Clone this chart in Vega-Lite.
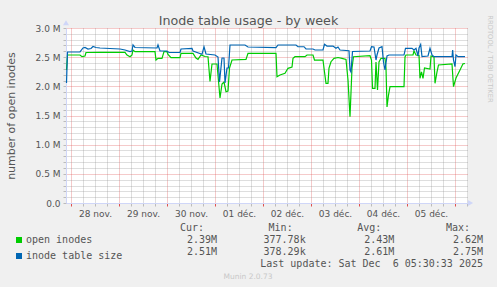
{
  "$schema": "https://vega.github.io/schema/vega-lite/v6.json",
  "width": 402,
  "height": 175,
  "autosize": {"type": "none"},
  "padding": {"left": 66, "top": 28, "right": 29, "bottom": 84},
  "background": "#F0F0F0",
  "config": {
    "view": {"fill": "white", "stroke": null},
    "font": "DejaVu Sans",
    "axis": {"labelFont": "DejaVu Sans", "labelFontSize": 9, "labelColor": "#555555", "titleFont": "DejaVu Sans", "titleFontWeight": "normal", "titleColor": "#555555", "domainColor": "#CFD6F8"}
  },
  "datasets": {
    "lines": [
      {"t": "2025-11-27T21:45:00Z", "series": "open inodes", "v": 2280000},
      {"t": "2025-11-27T22:15:00Z", "series": "open inodes", "v": 2537000},
      {"t": "2025-11-28T04:30:00Z", "series": "open inodes", "v": 2537000},
      {"t": "2025-11-28T05:30:00Z", "series": "open inodes", "v": 2508000},
      {"t": "2025-11-28T07:00:00Z", "series": "open inodes", "v": 2520000},
      {"t": "2025-11-28T07:30:00Z", "series": "open inodes", "v": 2580000},
      {"t": "2025-11-28T14:30:00Z", "series": "open inodes", "v": 2583000},
      {"t": "2025-11-29T03:00:00Z", "series": "open inodes", "v": 2583000},
      {"t": "2025-11-29T04:00:00Z", "series": "open inodes", "v": 2537000},
      {"t": "2025-11-29T05:30:00Z", "series": "open inodes", "v": 2508000},
      {"t": "2025-11-29T06:30:00Z", "series": "open inodes", "v": 2537000},
      {"t": "2025-11-29T07:00:00Z", "series": "open inodes", "v": 2623000},
      {"t": "2025-11-29T08:00:00Z", "series": "open inodes", "v": 2594000},
      {"t": "2025-11-29T18:00:00Z", "series": "open inodes", "v": 2594000},
      {"t": "2025-11-29T18:30:00Z", "series": "open inodes", "v": 2451000},
      {"t": "2025-11-29T19:30:00Z", "series": "open inodes", "v": 2480000},
      {"t": "2025-11-29T21:30:00Z", "series": "open inodes", "v": 2480000},
      {"t": "2025-11-29T22:30:00Z", "series": "open inodes", "v": 2594000},
      {"t": "2025-11-30T00:00:00Z", "series": "open inodes", "v": 2594000},
      {"t": "2025-11-30T00:30:00Z", "series": "open inodes", "v": 2546000},
      {"t": "2025-11-30T02:00:00Z", "series": "open inodes", "v": 2491000},
      {"t": "2025-11-30T06:30:00Z", "series": "open inodes", "v": 2491000},
      {"t": "2025-11-30T07:00:00Z", "series": "open inodes", "v": 2566000},
      {"t": "2025-11-30T13:00:00Z", "series": "open inodes", "v": 2566000},
      {"t": "2025-11-30T14:30:00Z", "series": "open inodes", "v": 2486000},
      {"t": "2025-11-30T15:30:00Z", "series": "open inodes", "v": 2463000},
      {"t": "2025-11-30T17:00:00Z", "series": "open inodes", "v": 2537000},
      {"t": "2025-11-30T19:00:00Z", "series": "open inodes", "v": 2511000},
      {"t": "2025-11-30T20:30:00Z", "series": "open inodes", "v": 2508000},
      {"t": "2025-11-30T21:30:00Z", "series": "open inodes", "v": 2083000},
      {"t": "2025-11-30T22:30:00Z", "series": "open inodes", "v": 2383000},
      {"t": "2025-12-01T01:00:00Z", "series": "open inodes", "v": 2383000},
      {"t": "2025-12-01T02:30:00Z", "series": "open inodes", "v": 1800000},
      {"t": "2025-12-01T03:30:00Z", "series": "open inodes", "v": 2040000},
      {"t": "2025-12-01T04:30:00Z", "series": "open inodes", "v": 2074000},
      {"t": "2025-12-01T05:30:00Z", "series": "open inodes", "v": 1908000},
      {"t": "2025-12-01T06:30:00Z", "series": "open inodes", "v": 1920000},
      {"t": "2025-12-01T07:15:00Z", "series": "open inodes", "v": 2314000},
      {"t": "2025-12-01T08:30:00Z", "series": "open inodes", "v": 2451000},
      {"t": "2025-12-01T15:30:00Z", "series": "open inodes", "v": 2463000},
      {"t": "2025-12-01T16:30:00Z", "series": "open inodes", "v": 2566000},
      {"t": "2025-12-02T06:30:00Z", "series": "open inodes", "v": 2566000},
      {"t": "2025-12-02T07:00:00Z", "series": "open inodes", "v": 2165000},
      {"t": "2025-12-02T08:30:00Z", "series": "open inodes", "v": 2194000},
      {"t": "2025-12-02T11:00:00Z", "series": "open inodes", "v": 2223000},
      {"t": "2025-12-02T12:30:00Z", "series": "open inodes", "v": 2309000},
      {"t": "2025-12-02T14:30:00Z", "series": "open inodes", "v": 2331000},
      {"t": "2025-12-02T15:00:00Z", "series": "open inodes", "v": 2480000},
      {"t": "2025-12-02T16:00:00Z", "series": "open inodes", "v": 2508000},
      {"t": "2025-12-02T21:00:00Z", "series": "open inodes", "v": 2508000},
      {"t": "2025-12-02T22:00:00Z", "series": "open inodes", "v": 2537000},
      {"t": "2025-12-03T01:00:00Z", "series": "open inodes", "v": 2537000},
      {"t": "2025-12-03T01:45:00Z", "series": "open inodes", "v": 2451000},
      {"t": "2025-12-03T06:00:00Z", "series": "open inodes", "v": 2451000},
      {"t": "2025-12-03T06:45:00Z", "series": "open inodes", "v": 2246000},
      {"t": "2025-12-03T07:30:00Z", "series": "open inodes", "v": 2052000},
      {"t": "2025-12-03T08:30:00Z", "series": "open inodes", "v": 2052000},
      {"t": "2025-12-03T09:00:00Z", "series": "open inodes", "v": 2314000},
      {"t": "2025-12-03T10:00:00Z", "series": "open inodes", "v": 2422000},
      {"t": "2025-12-03T11:30:00Z", "series": "open inodes", "v": 2480000},
      {"t": "2025-12-03T13:30:00Z", "series": "open inodes", "v": 2494000},
      {"t": "2025-12-03T15:30:00Z", "series": "open inodes", "v": 2480000},
      {"t": "2025-12-03T17:30:00Z", "series": "open inodes", "v": 2460000},
      {"t": "2025-12-03T18:30:00Z", "series": "open inodes", "v": 2109000},
      {"t": "2025-12-03T19:30:00Z", "series": "open inodes", "v": 1479000},
      {"t": "2025-12-03T20:30:00Z", "series": "open inodes", "v": 2314000},
      {"t": "2025-12-03T21:15:00Z", "series": "open inodes", "v": 2508000},
      {"t": "2025-12-04T05:30:00Z", "series": "open inodes", "v": 2525000},
      {"t": "2025-12-04T06:15:00Z", "series": "open inodes", "v": 2451000},
      {"t": "2025-12-04T06:45:00Z", "series": "open inodes", "v": 1966000},
      {"t": "2025-12-04T08:00:00Z", "series": "open inodes", "v": 1966000},
      {"t": "2025-12-04T08:30:00Z", "series": "open inodes", "v": 2417000},
      {"t": "2025-12-04T09:15:00Z", "series": "open inodes", "v": 1937000},
      {"t": "2025-12-04T10:00:00Z", "series": "open inodes", "v": 2417000},
      {"t": "2025-12-04T11:00:00Z", "series": "open inodes", "v": 2480000},
      {"t": "2025-12-04T13:00:00Z", "series": "open inodes", "v": 2480000},
      {"t": "2025-12-04T13:30:00Z", "series": "open inodes", "v": 2314000},
      {"t": "2025-12-04T14:00:00Z", "series": "open inodes", "v": 1646000},
      {"t": "2025-12-04T14:45:00Z", "series": "open inodes", "v": 1851000},
      {"t": "2025-12-04T15:30:00Z", "series": "open inodes", "v": 1994000},
      {"t": "2025-12-04T22:30:00Z", "series": "open inodes", "v": 1994000},
      {"t": "2025-12-04T23:00:00Z", "series": "open inodes", "v": 2503000},
      {"t": "2025-12-04T23:30:00Z", "series": "open inodes", "v": 2537000},
      {"t": "2025-12-05T03:00:00Z", "series": "open inodes", "v": 2537000},
      {"t": "2025-12-05T03:30:00Z", "series": "open inodes", "v": 2606000},
      {"t": "2025-12-05T04:30:00Z", "series": "open inodes", "v": 2537000},
      {"t": "2025-12-05T06:00:00Z", "series": "open inodes", "v": 2529000},
      {"t": "2025-12-05T06:30:00Z", "series": "open inodes", "v": 2137000},
      {"t": "2025-12-05T07:15:00Z", "series": "open inodes", "v": 2246000},
      {"t": "2025-12-05T08:00:00Z", "series": "open inodes", "v": 2137000},
      {"t": "2025-12-05T08:45:00Z", "series": "open inodes", "v": 2314000},
      {"t": "2025-12-05T11:30:00Z", "series": "open inodes", "v": 2297000},
      {"t": "2025-12-05T12:00:00Z", "series": "open inodes", "v": 2520000},
      {"t": "2025-12-05T13:30:00Z", "series": "open inodes", "v": 2503000},
      {"t": "2025-12-05T14:00:00Z", "series": "open inodes", "v": 2052000},
      {"t": "2025-12-05T15:00:00Z", "series": "open inodes", "v": 2246000},
      {"t": "2025-12-05T15:45:00Z", "series": "open inodes", "v": 2366000},
      {"t": "2025-12-05T22:30:00Z", "series": "open inodes", "v": 2383000},
      {"t": "2025-12-05T23:15:00Z", "series": "open inodes", "v": 1994000},
      {"t": "2025-12-06T00:30:00Z", "series": "open inodes", "v": 2143000},
      {"t": "2025-12-06T02:30:00Z", "series": "open inodes", "v": 2280000},
      {"t": "2025-12-06T04:00:00Z", "series": "open inodes", "v": 2386000},
      {"t": "2025-12-06T05:00:00Z", "series": "open inodes", "v": 2391000},
      {"t": "2025-11-27T21:45:00Z", "series": "inode table size", "v": 2057000},
      {"t": "2025-11-27T22:15:00Z", "series": "inode table size", "v": 2589000},
      {"t": "2025-11-28T04:30:00Z", "series": "inode table size", "v": 2589000},
      {"t": "2025-11-28T06:00:00Z", "series": "inode table size", "v": 2657000},
      {"t": "2025-11-28T07:00:00Z", "series": "inode table size", "v": 2666000},
      {"t": "2025-11-28T08:30:00Z", "series": "inode table size", "v": 2640000},
      {"t": "2025-11-28T10:00:00Z", "series": "inode table size", "v": 2649000},
      {"t": "2025-11-28T11:00:00Z", "series": "inode table size", "v": 2683000},
      {"t": "2025-11-28T12:30:00Z", "series": "inode table size", "v": 2666000},
      {"t": "2025-11-28T14:30:00Z", "series": "inode table size", "v": 2657000},
      {"t": "2025-11-28T19:30:00Z", "series": "inode table size", "v": 2649000},
      {"t": "2025-11-29T00:30:00Z", "series": "inode table size", "v": 2640000},
      {"t": "2025-11-29T03:00:00Z", "series": "inode table size", "v": 2623000},
      {"t": "2025-11-29T05:30:00Z", "series": "inode table size", "v": 2597000},
      {"t": "2025-11-29T06:30:00Z", "series": "inode table size", "v": 2606000},
      {"t": "2025-11-29T07:00:00Z", "series": "inode table size", "v": 2709000},
      {"t": "2025-11-29T08:00:00Z", "series": "inode table size", "v": 2666000},
      {"t": "2025-11-29T19:00:00Z", "series": "inode table size", "v": 2657000},
      {"t": "2025-11-29T19:30:00Z", "series": "inode table size", "v": 2709000},
      {"t": "2025-11-29T20:30:00Z", "series": "inode table size", "v": 2606000},
      {"t": "2025-11-30T00:00:00Z", "series": "inode table size", "v": 2606000},
      {"t": "2025-11-30T01:00:00Z", "series": "inode table size", "v": 2580000},
      {"t": "2025-11-30T06:30:00Z", "series": "inode table size", "v": 2580000},
      {"t": "2025-11-30T07:00:00Z", "series": "inode table size", "v": 2640000},
      {"t": "2025-11-30T12:30:00Z", "series": "inode table size", "v": 2652000},
      {"t": "2025-11-30T13:00:00Z", "series": "inode table size", "v": 2606000},
      {"t": "2025-11-30T17:30:00Z", "series": "inode table size", "v": 2549000},
      {"t": "2025-11-30T18:30:00Z", "series": "inode table size", "v": 2679000},
      {"t": "2025-11-30T19:30:00Z", "series": "inode table size", "v": 2554000},
      {"t": "2025-12-01T00:00:00Z", "series": "inode table size", "v": 2537000},
      {"t": "2025-12-01T01:30:00Z", "series": "inode table size", "v": 2503000},
      {"t": "2025-12-01T02:15:00Z", "series": "inode table size", "v": 2074000},
      {"t": "2025-12-01T03:30:00Z", "series": "inode table size", "v": 2486000},
      {"t": "2025-12-01T04:30:00Z", "series": "inode table size", "v": 2486000},
      {"t": "2025-12-01T05:00:00Z", "series": "inode table size", "v": 2057000},
      {"t": "2025-12-01T06:00:00Z", "series": "inode table size", "v": 2314000},
      {"t": "2025-12-01T06:45:00Z", "series": "inode table size", "v": 2314000},
      {"t": "2025-12-01T07:30:00Z", "series": "inode table size", "v": 2709000},
      {"t": "2025-12-01T15:00:00Z", "series": "inode table size", "v": 2709000},
      {"t": "2025-12-01T16:30:00Z", "series": "inode table size", "v": 2674000},
      {"t": "2025-12-02T06:30:00Z", "series": "inode table size", "v": 2662000},
      {"t": "2025-12-02T07:30:00Z", "series": "inode table size", "v": 2709000},
      {"t": "2025-12-02T16:30:00Z", "series": "inode table size", "v": 2709000},
      {"t": "2025-12-02T17:30:00Z", "series": "inode table size", "v": 2679000},
      {"t": "2025-12-02T20:30:00Z", "series": "inode table size", "v": 2679000},
      {"t": "2025-12-02T21:30:00Z", "series": "inode table size", "v": 2640000},
      {"t": "2025-12-03T01:00:00Z", "series": "inode table size", "v": 2640000},
      {"t": "2025-12-03T02:00:00Z", "series": "inode table size", "v": 2623000},
      {"t": "2025-12-03T06:00:00Z", "series": "inode table size", "v": 2623000},
      {"t": "2025-12-03T06:45:00Z", "series": "inode table size", "v": 2720000},
      {"t": "2025-12-03T08:00:00Z", "series": "inode table size", "v": 2691000},
      {"t": "2025-12-03T11:00:00Z", "series": "inode table size", "v": 2691000},
      {"t": "2025-12-03T12:30:00Z", "series": "inode table size", "v": 2652000},
      {"t": "2025-12-03T13:30:00Z", "series": "inode table size", "v": 2674000},
      {"t": "2025-12-03T14:30:00Z", "series": "inode table size", "v": 2623000},
      {"t": "2025-12-03T19:00:00Z", "series": "inode table size", "v": 2611000},
      {"t": "2025-12-03T19:30:00Z", "series": "inode table size", "v": 2280000},
      {"t": "2025-12-03T20:00:00Z", "series": "inode table size", "v": 2246000},
      {"t": "2025-12-03T20:45:00Z", "series": "inode table size", "v": 2597000},
      {"t": "2025-12-04T05:30:00Z", "series": "inode table size", "v": 2606000},
      {"t": "2025-12-04T06:15:00Z", "series": "inode table size", "v": 2679000},
      {"t": "2025-12-04T07:30:00Z", "series": "inode table size", "v": 2674000},
      {"t": "2025-12-04T08:30:00Z", "series": "inode table size", "v": 2451000},
      {"t": "2025-12-04T09:00:00Z", "series": "inode table size", "v": 2537000},
      {"t": "2025-12-04T10:00:00Z", "series": "inode table size", "v": 2657000},
      {"t": "2025-12-04T11:30:00Z", "series": "inode table size", "v": 2679000},
      {"t": "2025-12-04T12:15:00Z", "series": "inode table size", "v": 2417000},
      {"t": "2025-12-04T13:00:00Z", "series": "inode table size", "v": 2280000},
      {"t": "2025-12-04T14:00:00Z", "series": "inode table size", "v": 2520000},
      {"t": "2025-12-04T15:00:00Z", "series": "inode table size", "v": 2537000},
      {"t": "2025-12-04T22:30:00Z", "series": "inode table size", "v": 2537000},
      {"t": "2025-12-04T23:15:00Z", "series": "inode table size", "v": 2652000},
      {"t": "2025-12-05T02:30:00Z", "series": "inode table size", "v": 2652000},
      {"t": "2025-12-05T03:30:00Z", "series": "inode table size", "v": 2623000},
      {"t": "2025-12-05T04:30:00Z", "series": "inode table size", "v": 2652000},
      {"t": "2025-12-05T05:30:00Z", "series": "inode table size", "v": 2520000},
      {"t": "2025-12-05T06:00:00Z", "series": "inode table size", "v": 2657000},
      {"t": "2025-12-05T06:50:00Z", "series": "inode table size", "v": 2717000},
      {"t": "2025-12-05T07:30:00Z", "series": "inode table size", "v": 2511000},
      {"t": "2025-12-05T10:30:00Z", "series": "inode table size", "v": 2520000},
      {"t": "2025-12-05T11:30:00Z", "series": "inode table size", "v": 2652000},
      {"t": "2025-12-05T12:30:00Z", "series": "inode table size", "v": 2537000},
      {"t": "2025-12-05T13:30:00Z", "series": "inode table size", "v": 2508000},
      {"t": "2025-12-05T22:30:00Z", "series": "inode table size", "v": 2508000},
      {"t": "2025-12-05T22:50:00Z", "series": "inode table size", "v": 2623000},
      {"t": "2025-12-05T23:15:00Z", "series": "inode table size", "v": 2451000},
      {"t": "2025-12-06T00:00:00Z", "series": "inode table size", "v": 2337000},
      {"t": "2025-12-06T00:30:00Z", "series": "inode table size", "v": 2537000},
      {"t": "2025-12-06T01:30:00Z", "series": "inode table size", "v": 2508000},
      {"t": "2025-12-06T05:00:00Z", "series": "inode table size", "v": 2508000}
    ],
    "arrowY": [{"t": "2025-11-27T21:30:00Z", "v": 3090000}],
    "arrowX": [{"t": "2025-12-06T07:45:00Z", "v": 0}],
    "tbl": [
      {"row": "hdr", "col": "Cur", "txt": "Cur:"},
      {"row": "hdr", "col": "Min", "txt": "Min:"},
      {"row": "hdr", "col": "Avg", "txt": "Avg:"},
      {"row": "hdr", "col": "Max", "txt": "Max:"},
      {"row": "open inodes", "col": "Cur", "txt": "2.39M"},
      {"row": "open inodes", "col": "Min", "txt": "377.78k"},
      {"row": "open inodes", "col": "Avg", "txt": "2.43M"},
      {"row": "open inodes", "col": "Max", "txt": "2.62M"},
      {"row": "inode table size", "col": "Cur", "txt": "2.51M"},
      {"row": "inode table size", "col": "Min", "txt": "378.29k"},
      {"row": "inode table size", "col": "Avg", "txt": "2.61M"},
      {"row": "inode table size", "col": "Max", "txt": "2.75M"},
      {"row": "upd", "col": "Max", "txt": "Last update: Sat Dec \u00a06 05:30:33 2025"},
      {"row": "munin", "col": "Cur", "txt": "Munin 2.0.73"}
    ]
  },
  "layer": [
    {
      "encoding": {
        "x": {
          "field": "t", "type": "temporal",
          "scale": {"type": "utc", "domain": [1764279000000, 1765002600000]},
          "axis": {
            "title": null,
            "values": [1764288000000, 1764309600000, 1764331200000, 1764352800000, 1764374400000, 1764396000000, 1764417600000, 1764439200000, 1764460800000, 1764482400000, 1764504000000, 1764525600000, 1764547200000, 1764568800000, 1764590400000, 1764612000000, 1764633600000, 1764655200000, 1764676800000, 1764698400000, 1764720000000, 1764741600000, 1764763200000, 1764784800000, 1764806400000, 1764828000000, 1764849600000, 1764871200000, 1764892800000, 1764914400000, 1764936000000, 1764957600000, 1764979200000, 1765000800000],
            "grid": true,
            "gridColor": {"condition": {"test": "utchours(datum.value) == 0", "value": "#DE4F4F"}, "value": "#8F8F8F"},
            "gridOpacity": 0.6,
            "gridDash": [1, 1],
            "tickColor": {"condition": {"test": "utchours(datum.value) == 0", "value": "#DE4F4F"}, "value": "#BBBBBB"},
            "tickSize": 3,
            "labelExpr": "utchours(datum.value) == 12 ? utcFormat(datum.value, '%d') + (utcmonth(datum.value) == 10 ? ' nov.' : ' déc.') : ''",
            "labelOverlap": false,
            "labelFlush": false,
            "labelBound": false,
            "labelAngle": 0,
            "labelPadding": 3,
            "domainColor": "#CFD6F8"
          }
        },
        "y": {
          "field": "v", "type": "quantitative",
          "scale": {"domain": [0, 3000000], "nice": false},
          "axis": {
            "title": "number of open inodes",
            "titleFontSize": 11,
            "titleX": -55,
            "titleY": 87.5,
            "titleAngle": -90,
            "titleAlign": "center",
            "titleBaseline": "middle",
            "tickCount": 30,
            "grid": true,
            "gridColor": {"condition": {"test": "datum.value % 500000 == 0", "value": "#DE4F4F"}, "value": "#8F8F8F"},
            "gridOpacity": 0.6,
            "gridDash": [1, 1],
            "tickColor": "#BBBBBB",
            "tickSize": 3,
            "labelExpr": "datum.value % 500000 == 0 ? (datum.value == 0 ? '0.0' : format(datum.value / 1000000, '.1f') + ' M') : ''",
            "labelOverlap": false,
            "labelFlush": false,
            "labelPadding": 3,
            "domainColor": "#CFD6F8"
          }
        },
        "color": {
          "field": "series", "type": "nominal",
          "scale": {"domain": ["open inodes", "inode table size"], "range": ["#00CC00", "#0066B3"]},
          "legend": {
            "orient": "none", "legendX": -52, "legendY": 207, "title": null,
            "symbolType": "square", "symbolSize": 1, "symbolStrokeWidth": 5,
            "labelFont": "DejaVu Sans Mono", "labelFontSize": 10, "labelColor": "#555555",
            "labelOffset": 2, "rowPadding": -16, "padding": 0, "labelLimit": 0
          }
        }
      },
      "layer": [
        {"data": {"name": "lines"}, "transform": [{"filter": "datum.series == 'open inodes'"}], "mark": {"type": "line", "strokeWidth": 1.2}},
        {"data": {"name": "lines"}, "transform": [{"filter": "datum.series == 'inode table size'"}], "mark": {"type": "line", "strokeWidth": 1.2}},
        {"data": {"name": "arrowY"}, "mark": {"type": "point", "filled": true, "size": 36, "opacity": 1, "shape": "triangle-up", "color": "#CFD6F8"}, "encoding": {"color": {"value": "#CFD6F8"}}},
        {"data": {"name": "arrowX"}, "mark": {"type": "point", "filled": true, "size": 36, "opacity": 1, "shape": "triangle-right", "color": "#CFD6F8"}, "encoding": {"color": {"value": "#CFD6F8"}}}
      ]
    },
    {
      "data": {"name": "tbl"},
      "encoding": {
        "x": {
          "field": "col", "type": "nominal",
          "scale": {"type": "point", "domain": ["Cur", "Min", "Avg", "Max"], "range": [151, 417], "padding": 0},
          "axis": {"orient": "top", "title": "Inode table usage - by week", "labels": false, "ticks": false, "domain": false, "grid": false, "titleX": 182, "titleY": -3.5, "titleAlign": "center", "titleBaseline": "alphabetic", "titleFontSize": 12.7, "titleColor": "#555555", "titleAnchor": null}
        },
        "y": {
          "field": "row", "type": "nominal",
          "scale": {"type": "point", "domain": ["hdr", "open inodes", "inode table size", "upd", "munin"], "range": [199.5, 248.5], "padding": 0},
          "axis": {"orient": "right", "title": "RRDTOOL / TOBI OETIKER", "labels": false, "ticks": false, "domain": false, "grid": false, "titleAngle": 90, "titleX": 21, "titleY": 30.5, "titleAlign": "center", "titleBaseline": "middle", "titleFontSize": 6.8, "titleColor": "#C8C8C8"}
        },
        "text": {"field": "txt", "type": "nominal"}
      },
      "layer": [
        {"transform": [{"filter": "datum.row != 'hdr' && datum.row != 'munin'"}], "mark": {"type": "text", "align": "right", "baseline": "middle", "font": "DejaVu Sans Mono", "fontSize": 10, "color": "#555555"}},
        {"transform": [{"filter": "datum.row == 'hdr'"}], "mark": {"type": "text", "align": "right", "baseline": "middle", "dx": -13, "font": "DejaVu Sans Mono", "fontSize": 10, "color": "#555555"}},
        {"transform": [{"filter": "datum.row == 'munin'"}], "mark": {"type": "text", "align": "center", "baseline": "middle", "dx": 31, "font": "DejaVu Sans", "fontSize": 7.5, "color": "#C8C8C8"}}
      ]
    }
  ],
  "resolve": {"scale": {"x": "independent", "y": "independent"}, "axis": {"x": "independent", "y": "independent"}}
}
